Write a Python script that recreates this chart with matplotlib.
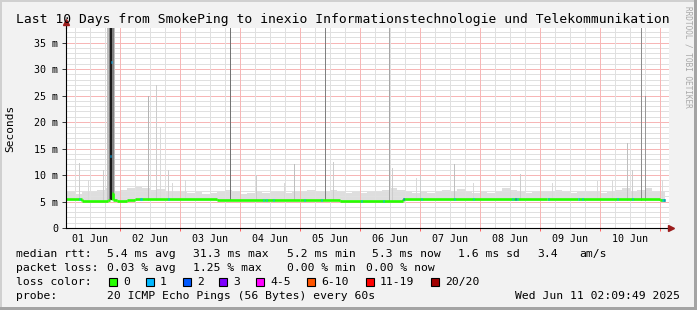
import matplotlib
matplotlib.use("Agg")
import matplotlib.pyplot as plt
import numpy as np
from matplotlib.patches import Rectangle
from matplotlib.lines import Line2D
from matplotlib.collections import LineCollection

W, H = 697, 310
MONO = "DejaVu Sans Mono"

title = "Last 10 Days from SmokePing to inexio Informationstechnologie und Telekommunikation"

# ---- time axis (days of June 2025) ----
t_start, t_end, t_data_end = 1.1, 11.15, 11.09
day_labels = ["01 Jun", "02 Jun", "03 Jun", "04 Jun", "05 Jun",
              "06 Jun", "07 Jun", "08 Jun", "09 Jun", "10 Jun"]
y_max = 37.74
y_ticks = [0, 5, 10, 15, 20, 25, 30, 35]
y_tick_labels = ["0", "5 m", "10 m", "15 m", "20 m", "25 m", "30 m", "35 m"]

# ---- median rtt (ms), piecewise constant from each day value ----
median_days = [1.10, 1.367, 1.80, 1.835, 1.852, 1.868, 1.885, 1.95, 2.117, 2.25,
               3.617, 5.0, 5.667, 6.717, 9.117, 9.633, 11.0]
median_ms = [5.55, 5.15, 5.3, 13.6, 31.3, 6.6, 5.3, 5.15, 5.3, 5.5,
             5.22, 5.2, 5.15, 5.42, 5.5, 5.4, 5.3]
median_loss = [0, 0, 0, 1, 1, 0, 0, 0, 0, 0,
               0, 0, 0, 0, 0, 0, 0]

# ---- single-bin packet loss events on the median ----
loss_days = [1.317, 2.333, 2.35, 2.8, 4.383, 4.433, 4.55, 5.067, 5.35, 6.017,
             6.383, 6.717, 7.017, 7.567, 7.883, 8.533, 8.583, 8.617, 9.133,
             9.633, 9.7, 10.283, 10.533, 11.033, 11.05, 11.067]
loss_count = [1, 1, 1, 1, 1, 1, 1, 1, 1, 1,
              1, 2, 1, 1, 1, 1, 2, 1, 1,
              1, 1, 1, 1, 1, 1, 2]

# ---- smoke haze: upper edge per 3-hour bin from Jun 1 00:00 ----
haze_start, haze_step = 1.0, 0.125
haze_top = [6.6, 6.8, 6.4, 6.9, 6.8, 7.2, 7.6, 6.9,
            7.2, 7.6, 7.9, 7.6, 7.2, 7.4, 6.9, 6.8,
            6.9, 6.6, 6.8, 6.4, 6.6, 6.8, 7.1, 6.9,
            6.4, 6.6, 6.8, 6.6, 6.9, 6.8, 6.6, 6.8,
            6.9, 7.2, 6.8, 6.9, 7.2, 6.8, 6.6, 6.9,
            6.6, 6.8, 6.9, 7.2, 7.6, 7.2, 6.9, 6.6,
            6.8, 6.6, 6.9, 7.2, 6.9, 7.3, 6.8, 6.6,
            6.8, 6.6, 6.9, 7.5, 7.2, 6.8, 6.6, 6.9,
            6.8, 6.9, 7.2, 6.8, 6.6, 6.8, 6.9, 6.8,
            6.6, 6.9, 7.2, 7.5, 6.9, 7.2, 7.5, 6.9,
            6.8]
haze_floor = 5.05

# ---- isolated smoke spikes (single ping outliers) ----
spike_days = [1.317, 1.467, 1.717, 1.783, 2.467, 2.6, 2.667, 2.8, 2.867, 3.083,
              3.833, 4.267, 4.733, 4.9, 5.417, 5.55, 6.483, 6.533, 6.933, 7.0,
              7.567, 7.883, 8.5, 8.667, 9.2, 9.95, 10.2, 10.45, 10.533, 10.683,
              10.75, 11.033]
spike_top = [12.2, 9.0, 11.0, 13.0, 25.0, 27.0, 19.0, 11.0, 8.5, 9.0,
             40.0, 10.0, 8.5, 12.0, 40.0, 12.5, 40.0, 11.3, 9.4, 10.0,
             12.0, 8.5, 8.5, 10.2, 8.5, 8.8, 9.0, 16.0, 11.0, 40.0,
             25.0, 9.0]
spike_density = [0.2, 0.15, 0.2, 0.2, 0.3, 0.2, 0.15, 0.2, 0.15, 0.15,
                 0.55, 0.2, 0.15, 0.25, 0.5, 0.2, 0.35, 0.2, 0.15, 0.2,
                 0.25, 0.15, 0.15, 0.2, 0.15, 0.15, 0.15, 0.25, 0.2, 0.45,
                 0.4, 0.15]

# ---- the Jun 1 evening burst (nested smoke bands) ----
burst_day = [1.853, 1.853, 1.853]
burst_span_h = [3.4, 1.9, 0.8]
burst_density = [0.25, 0.5, 0.9]

# ---- legend ----
stats_rtt = [("median rtt:", 16), ("5.4 ms avg", 107), ("31.3 ms max", 193),
             ("5.2 ms min", 287), ("5.3 ms now", 372), ("1.6 ms sd", 458),
             ("3.4", 537), ("am/s", 579)]
stats_loss = [("packet loss:", 16), ("0.03 % avg", 107), ("1.25 % max", 193),
              ("0.00 % min", 287), ("0.00 % now", 366)]
loss_names = ["0", "1", "2", "3", "4-5", "6-10", "11-19", "20/20"]
loss_colors = ["#26ff00", "#00b8ff", "#0059ff", "#7e00ff", "#ff00ff",
               "#ff5500", "#ff0000", "#a10000"]
probe_text = "20 ICMP Echo Pings (56 Bytes) every 60s"
stamp_text = "Wed Jun 11 02:09:49 2025"


def loss_color(n):
    if n <= 0: return loss_colors[0]
    if n == 1: return loss_colors[1]
    if n == 2: return loss_colors[2]
    if n == 3: return loss_colors[3]
    if n <= 5: return loss_colors[4]
    if n <= 10: return loss_colors[5]
    if n <= 19: return loss_colors[6]
    return loss_colors[7]


def fx(px): return px / W
def fy(py): return 1 - py / H


fig = plt.figure(figsize=(W / 100, H / 100), dpi=100)
fig.patch.set_facecolor("#f2f2f2")

# frame shading
fig.add_artist(Rectangle((0, 1 - 2 / H), 1, 2 / H, transform=fig.transFigure, color="#d0d0d0", lw=0))
fig.add_artist(Rectangle((0, 0), 2 / W, 1, transform=fig.transFigure, color="#d0d0d0", lw=0))
fig.add_artist(Rectangle((0, 0), 1, 3 / H, transform=fig.transFigure, color="#a4a4a4", lw=0))
fig.add_artist(Rectangle((1 - 3 / W, 0), 3 / W, 1, transform=fig.transFigure, color="#a4a4a4", lw=0))

ax = fig.add_axes([66 / W, (H - 228) / H, 603 / W, 200 / H])
ax.set_facecolor("white")
ax.set_xlim(t_start, t_end)
ax.set_ylim(0, y_max)

# haze
edges = haze_start + haze_step * np.arange(len(haze_top) + 1)
ht = np.append(haze_top, haze_top[-1])
ax.fill_between(edges, haze_floor, ht, step="post", color="#dedede", lw=0, zorder=1)
ax.axvspan(t_data_end, t_end, color="white", lw=0, zorder=1.1)

# grid (rrdtool dotted lines, rendered as their blended tone)
gkw = dict(lw=0.72, zorder=2, snap=True)
for h in range(1, int(y_max) + 1):
    ax.axhline(h, color="#f7b6b6" if h % 5 == 0 else "#e0e0e0", **gkw)
for k in range(int(t_start * 4) + 1, int(t_end * 4) + 1):
    d = k / 4
    ax.axvline(d, color="#f7b6b6" if k % 4 == 0 else "#e0e0e0", **gkw)

# spikes
px_day = 1 / 60
for d, top, den in zip(spike_days, spike_top, spike_density):
    g = 1 - den
    ax.bar(d, top - haze_floor, bottom=haze_floor, width=px_day, color=(g, g, g),
           lw=0, zorder=3, align="edge")
for d, sp, den in zip(burst_day, burst_span_h, burst_density):
    g = 1 - den
    ax.bar(d, 45, bottom=5.2, width=sp / 24, color=(g, g, g), lw=0, zorder=3.5)

# median line, coloured by loss
md = list(median_days) + [t_data_end]
segs, cols = [], []
for i in range(len(median_ms)):
    segs.append([(md[i], median_ms[i]), (md[i + 1], median_ms[i])])
    cols.append(loss_color(median_loss[i]))
    if i > 0 and median_loss[i] == median_loss[i - 1] and abs(median_ms[i] - median_ms[i - 1]) < 2:
        segs.append([(md[i], median_ms[i - 1]), (md[i], median_ms[i])])
        cols.append(loss_color(median_loss[i]))
ax.add_collection(LineCollection(segs, colors=cols, linewidths=1.9, zorder=5, capstyle="butt"))

idx = np.searchsorted(median_days, loss_days, side="right") - 1
for d, i, n in zip(loss_days, idx, loss_count):
    v = median_ms[i]
    ax.hlines(v, d, d + px_day, colors=loss_color(n), lw=1.9, zorder=6)

# axes styling
for s in ["top", "right"]:
    ax.spines[s].set_visible(False)
for s in ["left", "bottom"]:
    ax.spines[s].set_color("black")
    ax.spines[s].set_linewidth(0.8)
    ax.spines[s].set_zorder(7)

ax.set_yticks(y_ticks)
ax.set_yticklabels(y_tick_labels, family=MONO, fontsize=7.2)
ax.tick_params(axis="y", length=3, width=0.7, color="#333333", pad=2.5)

noons = [1.5 + i for i in range(len(day_labels))]
ax.set_xticks(noons)
ax.set_xticklabels(day_labels, family=MONO, fontsize=7.2)
ax.set_xticks([2 + i for i in range(10)], minor=True)
ax.tick_params(axis="x", which="major", length=0, pad=4.5)
ax.tick_params(axis="x", which="minor", length=2.5, width=0.7, color="#ff6060")

# axis arrows
ax.add_line(Line2D([0, 0], [1, 1.03], transform=ax.transAxes, color="black", lw=0.8, clip_on=False))
ax.plot([0], [1.03], marker="^", ms=4.2, color="#9b1c1c", mec="#9b1c1c", transform=ax.transAxes, clip_on=False, zorder=8)
ax.plot([1.003], [0], marker=">", ms=4.2, color="#9b1c1c", mec="#9b1c1c", transform=ax.transAxes, clip_on=False, zorder=8)

# texts
fig.text(fx(16), fy(19), title, family=MONO, fontsize=9.4, va="center", ha="left")
fig.text(fx(10), fy(128), "Seconds", family=MONO, fontsize=8.0, rotation=90, va="center", ha="center")
fig.text(fx(688), fy(6), "RRDTOOL / TOBI OETIKER", family=MONO, fontsize=5.6, color="#a8a8a8",
         rotation=270, va="top", ha="center")

LEG = 8.2
for txt, x in stats_rtt:
    fig.text(fx(x), fy(254), txt, family=MONO, fontsize=LEG, va="center")
for txt, x in stats_loss:
    fig.text(fx(x), fy(268), txt, family=MONO, fontsize=LEG, va="center")
fig.text(fx(16), fy(282), "loss color:", family=MONO, fontsize=LEG, va="center")
sw_x = [109, 146, 183, 219, 256, 307, 366, 431]
for name, c, x in zip(loss_names, loss_colors, sw_x):
    fig.add_artist(Rectangle((fx(x), fy(286)), 8 / W, 8 / H, transform=fig.transFigure,
                             facecolor=c, edgecolor="black", lw=0.8))
    fig.text(fx(x + 14), fy(282), name, family=MONO, fontsize=LEG, va="center")
fig.text(fx(16), fy(296), "probe:", family=MONO, fontsize=LEG, va="center")
fig.text(fx(107), fy(296), probe_text, family=MONO, fontsize=LEG, va="center")
fig.text(fx(680), fy(296), stamp_text, family=MONO, fontsize=LEG, va="center", ha="right")

fig.savefig("out.png", dpi=100, facecolor=fig.get_facecolor())
